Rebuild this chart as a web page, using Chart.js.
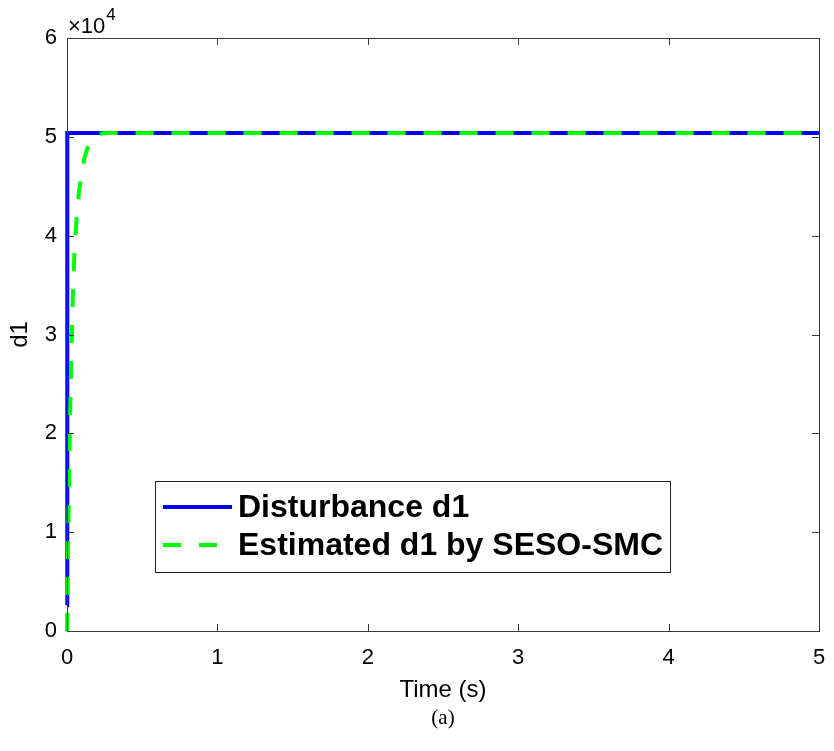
<!DOCTYPE html>
<html>
<head>
<meta charset="utf-8">
<script src="https://cdn.jsdelivr.net/npm/chart.js@4.4.1/dist/chart.umd.min.js"></script>
<style>
  html, body { margin: 0; padding: 0; background: #fff; }
  #wrap { width: 834px; height: 751px; }
</style>
</head>
<body>
<div id="wrap"><canvas id="d1Chart" width="834" height="751"></canvas></div>
<script>
// time axis ticks (s) and d1 ticks (x10^4)
const timeTicks = [0, 1, 2, 3, 4, 5];
const d1Ticks = [0, 1, 2, 3, 4, 5, 6];

// actual disturbance d1
const distTime = [0, 0.002, 5];
const distValue = [2600, 50400, 50400];

// estimate from the SESO-SMC observer
const estTime = [0, 0.005, 0.01, 0.015, 0.02, 0.027, 0.033, 0.04, 0.05, 0.065, 0.08, 0.095, 0.115, 0.135, 0.16, 0.19, 0.25, 5];
const estValue = [0, 7000, 11500, 17000, 21000, 26500, 30500, 34500, 38500, 42000, 44500, 46000, 47800, 48800, 49700, 50200, 50400, 50400];

const toPoints = (xs, ys) => xs.map((x, i) => ({ x: x, y: ys[i] }));

const FONT = '"Liberation Sans", Arial, Helvetica, sans-serif';
const AXIS_COLOR = '#3a3a3a';

// inward ticks on all four sides, box frame, axis titles, x10^4 label, legend and caption
const matlabFrame = {
    id: 'matlabFrame',
    afterDraw(chart) {
        const ctx = chart.ctx;
        const a = chart.chartArea;
        const xs = chart.scales.x, ys = chart.scales.y;
        const len = 7;
        ctx.save();
        ctx.strokeStyle = AXIS_COLOR;
        ctx.lineWidth = 1;
        ctx.beginPath();
        timeTicks.forEach(t => {
            const px = Math.round(xs.getPixelForValue(t)) + 0.5;
            ctx.moveTo(px, a.bottom); ctx.lineTo(px, a.bottom - len);
            ctx.moveTo(px, a.top); ctx.lineTo(px, a.top + len);
        });
        d1Ticks.forEach(v => {
            const py = Math.round(ys.getPixelForValue(v * 1e4)) + 0.5;
            ctx.moveTo(a.left, py); ctx.lineTo(a.left + len, py);
            ctx.moveTo(a.right, py); ctx.lineTo(a.right - len, py);
        });
        ctx.stroke();
        ctx.strokeRect(Math.round(a.left) + 0.5, Math.round(a.top) + 0.5,
            Math.round(a.right - a.left), Math.round(a.bottom - a.top));

        // axis titles
        ctx.fillStyle = '#000';
        ctx.font = '24px ' + FONT;
        ctx.textAlign = 'center';
        ctx.textBaseline = 'middle';
        ctx.fillText('Time (s)', (a.left + a.right) / 2, 690);
        ctx.save();
        ctx.translate(20, (a.top + a.bottom) / 2);
        ctx.rotate(-Math.PI / 2);
        ctx.fillText('d1', 0, 0);
        ctx.restore();

        // exponent label
        ctx.textBaseline = 'alphabetic';
        ctx.textAlign = 'left';
        ctx.font = '22px ' + FONT;
        ctx.fillText('\u00d710', a.left + 1, a.top - 5);
        const w = ctx.measureText('\u00d710').width;
        ctx.font = '17px ' + FONT;
        ctx.fillText('4', a.left + w + 2, a.top - 18);

        // legend
        const lx = 155, ly = 481, lw = 515, lh = 91;
        ctx.fillStyle = '#fff';
        ctx.fillRect(lx, ly, lw, lh);
        ctx.strokeStyle = '#262626';
        ctx.lineWidth = 1;
        ctx.strokeRect(lx + 0.5, ly + 0.5, lw, lh);
        const rows = [ly + 26, ly + 64];
        chart.data.datasets.forEach(ds => {
            const y = rows[ds.legendRow];
            ctx.strokeStyle = ds.borderColor;
            ctx.lineWidth = ds.borderWidth;
            ctx.setLineDash(ds.borderDash || []);
            ctx.beginPath();
            ctx.moveTo(lx + 8, y);
            ctx.lineTo(lx + 77, y);
            ctx.stroke();
            ctx.setLineDash([]);
            ctx.fillStyle = '#000';
            ctx.font = 'bold 32px ' + FONT;
            ctx.textBaseline = 'middle';
            ctx.fillText(ds.label, lx + 83, y + 1);
        });

        // caption
        ctx.font = '21px "Liberation Serif", "Times New Roman", serif';
        ctx.textAlign = 'center';
        ctx.textBaseline = 'middle';
        ctx.fillStyle = '#000';
        ctx.fillText('(a)', (a.left + a.right) / 2, 718);
        ctx.restore();
    }
};

new Chart(document.getElementById('d1Chart'), {
    type: 'line',
    data: {
        datasets: [
            {
                label: 'Disturbance d1',
                data: toPoints(distTime, distValue),
                borderColor: '#0000ff',
                borderWidth: 4,
                pointRadius: 0,
                tension: 0,
                fill: false,
                order: 1,
                legendRow: 0,
                clip: 6
            },
            {
                label: 'Estimated d1 by SESO-SMC',
                data: toPoints(estTime, estValue),
                borderColor: '#00ff00',
                borderWidth: 4,
                borderDash: [18, 18],
                pointRadius: 0,
                tension: 0,
                fill: false,
                order: 0,
                legendRow: 1,
                clip: 6
            }
        ]
    },
    options: {
        responsive: false,
        animation: false,
        events: [],
        layout: { padding: { top: 38, right: 15, left: 0, bottom: 0 } },
        plugins: {
            legend: { display: false },
            tooltip: { enabled: false }
        },
        scales: {
            x: {
                type: 'linear',
                min: 0,
                max: 5,
                afterFit: s => { s.height = 120; s.paddingLeft = 0; s.paddingRight = 0; },
                afterBuildTicks: s => { s.ticks = timeTicks.map(v => ({ value: v })); },
                grid: { display: false, drawTicks: false },
                border: { display: false },
                ticks: {
                    color: '#000',
                    padding: 14,
                    maxRotation: 0,
                    font: { family: FONT, size: 22 }
                }
            },
            y: {
                type: 'linear',
                min: 0,
                max: 60000,
                afterFit: s => { s.width = 67; s.paddingTop = 0; s.paddingBottom = 0; },
                afterBuildTicks: s => { s.ticks = d1Ticks.map(v => ({ value: v * 1e4 })); },
                grid: { display: false, drawTicks: false },
                border: { display: false },
                ticks: {
                    color: '#000',
                    padding: 10,
                    font: { family: FONT, size: 22 },
                    callback: v => String(v / 1e4)
                }
            }
        }
    },
    plugins: [matlabFrame]
});
</script>
</body>
</html>
